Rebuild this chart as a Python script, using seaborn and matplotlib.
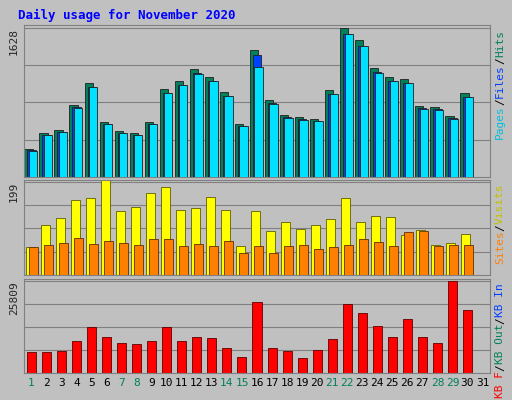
import numpy as np
import seaborn as sns
import matplotlib.pyplot as plt

sns.set_style("white")
plt.rcParams['font.family'] = ['DejaVu Sans Mono', 'DejaVu Sans']

days = list(range(1, 32))
weekend = [1, 7, 8, 14, 15, 21, 22, 28, 29]
hits = [301, 480, 513, 792, 1026, 602, 502, 480, 602, 959, 1048, 1182, 1093, 925, 580,
        1383, 836, 680, 658, 636, 948, 1628, 1494, 1193, 1093, 1070, 780, 769, 669, 914]
files = [290, 460, 495, 760, 985, 580, 482, 462, 580, 920, 1005, 1135, 1050, 890, 556,
         1330, 805, 655, 632, 612, 910, 1565, 1435, 1145, 1050, 1028, 750, 738, 642, 878]
pages = [285, 455, 490, 755, 980, 575, 478, 458, 575, 915, 1000, 1130, 1045, 885, 552,
         1200, 800, 650, 628, 608, 905, 1560, 1430, 1140, 1045, 1022, 745, 733, 638, 872]
visits = [59, 107, 121, 160, 165, 204, 137, 146, 176, 187, 139, 144, 167, 139, 62,
          137, 94, 114, 98, 107, 119, 165, 114, 126, 123, 85, 96, 64, 69, 87]
sites = [59, 64, 69, 80, 66, 73, 69, 64, 76, 76, 62, 66, 62, 73, 46,
         62, 48, 62, 64, 55, 59, 64, 76, 71, 62, 92, 94, 62, 64, 64]
kbytes = [5838, 5838, 6145, 8910, 12904, 10139, 8296, 7989, 8910, 12904, 8910, 10139,
          9832, 7067, 4609, 19970, 7067, 6145, 4301, 6452, 9525, 19355, 16897, 13211,
          10139, 15054, 10139, 8296, 25809, 17511]
ymax = [1628, 199, 25809]

bg = '#c0c0c0'
fig = plt.figure(figsize=(5.12, 4.0), dpi=100, facecolor=bg)
W, H = 512, 400

def panel(y0, y1):
    ax = fig.add_axes([24 / W, 1 - y1 / H, 466 / W, (y1 - y0) / H], facecolor=bg)
    ax.set_xlim(0.5, 31.5)
    for s in ax.spines.values():
        s.set_color('#808080')
    ax.tick_params(length=0)
    return ax

x = np.array(days[:len(hits)])

def grid(ax, top):
    for f in (0.25, 0.5, 0.75, 1.0):
        ax.axhline(top * f, color='#808080', lw=0.8, zorder=0)
    ax.set_ylim(0, top * 1.02)
    ax.set_yticks([top])
    ax.set_yticklabels([str(top)], rotation=90, va='top', fontsize=8)

ax1 = panel(25, 177)
grid(ax1, ymax[0])
ax1.bar(x - 0.2, hits, width=0.55, color='#00805c', edgecolor='#202020', lw=0.6, zorder=2)
ax1.bar(x, files, width=0.55, color='#0040ff', edgecolor='#202020', lw=0.6, zorder=3)
ax1.bar(x + 0.1, pages, width=0.55, color='#00e0ff', edgecolor='#202020', lw=0.6, zorder=4)
ax1.set_xticks([])

ax2 = panel(180, 275)
grid(ax2, ymax[1])
ax2.bar(x - 0.1, visits, width=0.6, color='#ffff00', edgecolor='#606000', lw=0.6, zorder=2)
ax2.bar(x + 0.1, sites, width=0.6, color='#ff8000', edgecolor='#603000', lw=0.6, zorder=3)
ax2.set_xticks([])

ax3 = panel(279, 373)
grid(ax3, ymax[2])
ax3.bar(x, kbytes, width=0.6, color='#ff0000', edgecolor='#600000', lw=0.6, zorder=2)
ax3.set_xticks(days)
ax3.set_xticklabels([str(d) for d in days], fontsize=8)
for lab, d in zip(ax3.get_xticklabels(), days):
    lab.set_color('#00805c' if d in weekend else '#000000')

fig.text(18 / W, 1 - 15 / H, 'Daily usage for November 2020', color='#0000ff',
         fontsize=9, fontweight='bold', va='center')

def side(y, parts):
    yy = y
    for t, c in parts:
        fig.text(500 / W, 1 - yy / H, t, color=c, fontsize=8, rotation=90,
                 va='top', ha='center')
        yy += len(t) * 6.8
side(30, [('Hits', '#00805c'), ('/', '#000000'), ('Files', '#0040ff'),
          ('/', '#000000'), ('Pages', '#00c0e0')])
side(183, [('Visits', '#c0c000'), ('/', '#000000'), ('Sites', '#ff8000')])
side(283, [('KB In', '#0040ff'), ('/', '#000000'), ('KB Out', '#00805c'),
           ('/', '#000000'), ('KB F', '#ff0000')])

fig.savefig('out.png', dpi=100, facecolor=bg)
